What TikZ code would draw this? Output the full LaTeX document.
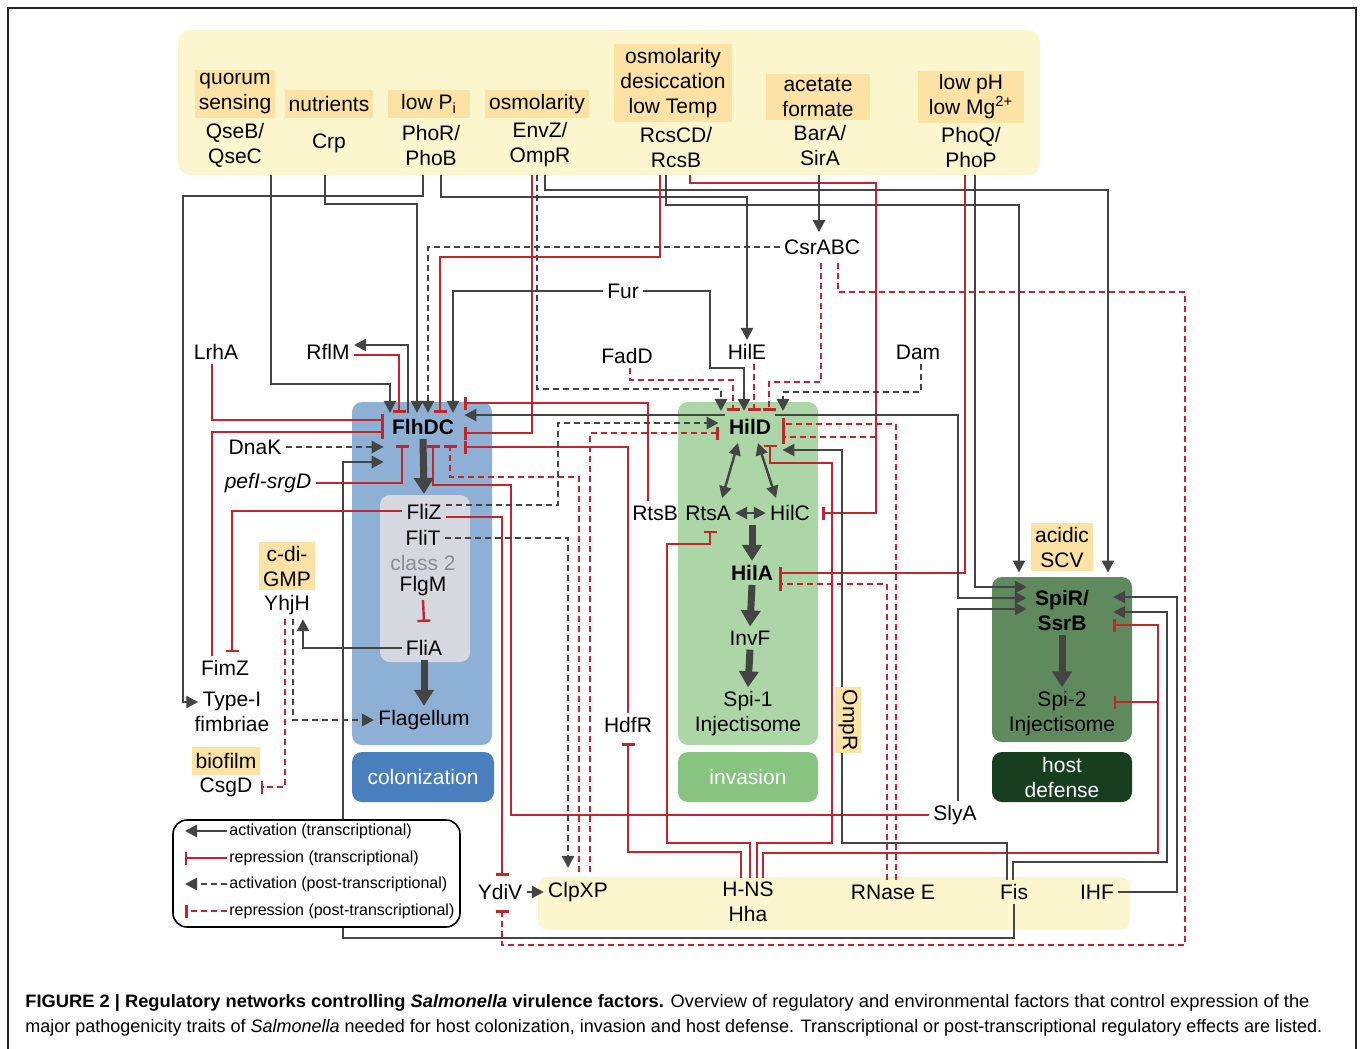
\documentclass[tikz,border=0pt]{standalone}
\usepackage{fontspec}
\setmainfont{Liberation Sans}
\usepackage{graphicx}
\usetikzlibrary{arrows.meta,calc}

\definecolor{linegray}{RGB}{68,68,68}
\definecolor{linered}{RGB}{192,39,45}
\definecolor{envyellow}{RGB}{251,246,205}
\definecolor{cueorange}{RGB}{253,226,166}
\definecolor{flablue}{RGB}{143,176,213}
\definecolor{colblue}{RGB}{74,127,189}
\definecolor{classgray}{RGB}{213,217,223}
\definecolor{invgreen}{RGB}{173,214,166}
\definecolor{invlabgreen}{RGB}{135,196,127}
\definecolor{spigreen}{RGB}{94,138,94}
\definecolor{defgreen}{RGB}{23,63,31}

\newcommand{\lblfont}{\fontsize{10.5}{12.5}\selectfont}
\newcommand{\legfont}{\fontsize{8}{9.5}\selectfont}
\newcommand{\capfont}{\fontsize{9}{11}\selectfont}

\begin{document}
\begin{tikzpicture}[x=0.5pt, y=-0.5pt,
    lbl/.style={inner sep=2pt, align=center, font=\lblfont, text=black},
    cue/.style={lbl, fill=cueorange, minimum height=14pt},
    area/.style={rounded corners=5pt, inner sep=0pt},
    act/.style={draw=linegray, line width=1.2pt, -{Triangle[length=6pt,width=6pt]}},
    rep/.style={draw=linered, line width=1.2pt, -{Bar[width=6.5pt]}},
    pact/.style={act, line width=1.4pt, dash pattern=on 3pt off 2pt},
    prep/.style={rep, line width=1.4pt, dash pattern=on 3pt off 2pt},
    dact/.style={act, {Triangle[length=6pt,width=6pt]}-{Triangle[length=6pt,width=6pt]}},
    big/.style={draw=linegray, line width=3.5pt, -{Triangle[length=8pt,width=9.5pt]}}]

    \useasboundingbox (0,0) rectangle (1360,1049);
    \draw[line width=1pt, black!85] (8,1060) -- (8,8) -- (1356,8) -- (1356,1060);

    % areas
    \node[area, fill=envyellow, minimum width=431pt, minimum height=72.5pt, rounded corners=6pt]
      (topbox) at (609,102.5) {};
    \node[area, fill=flablue, minimum width=70pt, minimum height=171.5pt]
      (flabox) at (422,573.5) {};
    \node[area, fill=classgray, minimum width=45pt, minimum height=83.5pt]
      (classbox) at (425,578.5) {};
    \node[area, fill=colblue, minimum width=71pt, minimum height=25pt, font=\lblfont, text=white]
      (colbox) at (423,777) {colonization};
    \node[area, fill=invgreen, minimum width=70pt, minimum height=171.5pt]
      (invbox) at (748,573.5) {};
    \node[area, fill=invlabgreen, minimum width=70pt, minimum height=25pt, font=\lblfont, text=white]
      (invlab) at (748,777) {invasion};
    \node[area, fill=spigreen, minimum width=70pt, minimum height=82.5pt]
      (defbox) at (1062,659.5) {};
    \node[area, fill=defgreen, minimum width=70pt, minimum height=25pt, font=\lblfont, text=white, align=center]
      (deflab) at (1062,777) {host\\defense};
    \node[area, fill=envyellow, minimum width=296pt, minimum height=26.5pt]
      (botbox) at (834,903.5) {};

    % environmental cues and sensors
    \node[cue] (quorum) at (235,94) {quorum\\sensing};
    \node[lbl] (qse) at (235,145) {QseB/\\QseC};
    \node[cue] (nutri) at (329,104) {nutrients};
    \node[lbl] (crp) at (329,143) {Crp};
    \node[cue, minimum width=41pt] (lowpi) at (429,104) {low P\textsubscript{i}};
    \node[lbl] (pho) at (431,145) {PhoR/\\PhoB};
    \node[cue] (osmo) at (537,104) {osmolarity};
    \node[lbl] (envz) at (540,145) {EnvZ/\\OmpR};
    \node[cue, minimum width=59pt] (stress) at (673,83) {osmolarity\\desiccation\\low Temp};
    \node[lbl] (rcs) at (676,147) {RcsCD/\\RcsB};
    \node[cue, minimum width=52pt] (acet) at (818,97) {acetate\\formate};
    \node[lbl] (bara) at (820,145) {BarA/\\SirA};
    \node[cue, minimum width=53pt] (lowph) at (971,97) {low pH\\low Mg\textsuperscript{2+}};
    \node[lbl] (phoq) at (971,147) {PhoQ/\\PhoP};

    % regulators
    \node[lbl] (lrha) at (216,352) {LrhA};
    \node[lbl] (rflm) at (328,352) {RflM};
    \node[lbl] (dnak) at (255,447) {DnaK};
    \node[lbl, font=\lblfont\itshape] (pef) at (268,483) {pefI-srgD};
    \node[lbl, font=\lblfont\bfseries] (flhdc) at (423,427) {FlhDC};
    \node[lbl] (fliz) at (424,512) {FliZ};
    \node[lbl] (flit) at (423,538) {FliT};
    \node[lbl, text=black!45] (class2) at (423,563) {class 2};
    \node[lbl] (flgm) at (423,586) {FlgM};
    \node[lbl] (flia) at (424,648) {FliA};
    \node[lbl] (flag) at (424,720) {Flagellum};
    \node[cue] (cdigmp) at (287,566) {c-di-\\GMP};
    \node[lbl] (yhjh) at (287,605) {YhjH};
    \node[lbl] (fimz) at (225,668) {FimZ};
    \node[lbl] (typei) at (232,712) {Type-I\\fimbriae};
    \node[cue] (biofilm) at (226,761) {biofilm};
    \node[lbl] (csgd) at (226,787) {CsgD};
    \node[lbl] (fur) at (623,291) {Fur};
    \node[lbl] (csr) at (822,247) {CsrABC};
    \node[lbl] (fadd) at (627,356) {FadD};
    \node[lbl] (hile) at (747,352) {HilE};
    \node[lbl] (dam) at (918,352) {Dam};
    \node[lbl, font=\lblfont\bfseries] (hild) at (750,427) {HilD};
    \node[lbl] (rtsb) at (655,513) {RtsB};
    \node[lbl] (rtsa) at (708,513) {RtsA};
    \node[lbl] (hilc) at (790,513) {HilC};
    \node[lbl, font=\lblfont\bfseries] (hila) at (752,573) {HilA};
    \node[lbl] (invf) at (750,638) {InvF};
    \node[lbl] (spi1) at (748,714) {Spi-1\\Injectisome};
    \node[lbl] (hdfr) at (628,725) {HdfR};
    \node[cue] (scv) at (1062,547) {acidic\\SCV};
    \node[lbl, font=\lblfont\bfseries] (spir) at (1062,610) {SpiR/\\SsrB};
    \node[lbl] (spi2) at (1062,714) {Spi-2\\Injectisome};
    \node[lbl] (slya) at (955,815) {SlyA};
    \node[lbl] (ydiv) at (500,892) {YdiV};
    \node[lbl] (clpxp) at (578,892) {ClpXP};
    \node[lbl] (hns) at (748,902) {H-NS\\Hha};
    \node[lbl] (rnase) at (893,892) {RNase E};
    \node[lbl] (fis) at (1014,892) {Fis};
    \node[lbl] (ihf) at (1097,892) {IHF};

    \coordinate (qseOut) at (271,175);
    \coordinate (crpOut) at (325,175);
    \coordinate (phoOutA) at (423,175);
    \coordinate (phoOutB) at (441,175);
    \coordinate (envOutR) at (532,175);
    \coordinate (envOutD) at (537,175);
    \coordinate (envOutA) at (545,175);
    \coordinate (rcsOutR) at (660,175);
    \coordinate (rcsOutA) at (666,175);
    \coordinate (rcsOutH) at (690,175);
    \coordinate (sirOut) at (819,175);
    \coordinate (phpOutR) at (965,175);
    \coordinate (phpOutA) at (975,175);
    \coordinate (hnsj) at (1158,702);
    \coordinate (ompj) at (876,437);

    % from the sensors
    \draw[act] (qseOut) |- (390,384) -- ($(flhdc.north)+(-33,-2)$);
    \draw[act] (phoOutA) |- (183,196) |- ($(typei.west)+(8,-10)$);
    \draw[act] (crpOut) |- (417,204) -- ($(flhdc.north)+(-6,-2)$);
    \draw[act] (phoOutB) |- (747,197) -- (hile.north);
    \draw[rep] (envOutR) |- ($(flhdc.east)+(6,6)$);
    \draw[pact] (envOutD) |- (721,389) -- ($(hild.north)+(-29,-4)$);
    \draw[act] (envOutA) |- (1108,190) -- ($(defbox.north)+(46,-4)$);
    \draw[rep] (rcsOutR) |- (440,257) -- ($(flhdc.north)+(17,-2)$);
    \draw[act] (rcsOutA) |- (1019,205) -- ($(defbox.north)+(-43,-4)$);
    \draw[rep] (rcsOutH) |- (876,183) |- ($(hilc.east)+(8,0)$);
    \draw[act] (sirOut) -- ($(csr.north)+(-3,-3)$);
    \draw[rep] (phpOutR) |- ($(hila.east)+(2,0)$);
    \draw[act] (phpOutA) |- ($(spir.west)+(-4,-23)$);

    % FlhDC inputs
    \draw[pact] (csr.west) -| ($(flhdc.north)+(5,-2)$);
    \draw[act] (fur.west) -| ($(flhdc.north)+(30,-2)$);
    \draw[act] ($(flhdc.north)+(-15,-2)$) |- ($(rflm.east)+(0,-7)$);
    \draw[rep] ($(rflm.east)+(0,3)$) -| ($(flhdc.north)+(-24,-2)$);
    \draw[rep] ($(lrha.south)+(-4,0)$) |- ($(flhdc.west)+(-4,-7)$);
    \draw[rep] ($(fimz.north)+(-13,0)$) |- ($(flhdc.west)+(-4,5)$);
    \draw[pact] (dnak.east) -- ($(flhdc.west)+(-4,20)$);
    \draw[act] (fis.south) |- (343,938) |- ($(flhdc.west)+(-4,35)$);
    \draw[rep] (pef.east) -| ($(flhdc.south)+(-21,6)$);
    \draw[rep] (slya.west) -| (511,485) -| ($(flhdc.south)+(10,6)$);
    \draw[rep] ($(rtsb.north)+(-7,0)$) |- ($(flhdc.east)+(6,-24)$);
    \draw[rep] (hdfr.north) |- ($(flhdc.east)+(6,20)$);
    \draw[act] ($(hild.west)+(0,-12)$) -- ($(flhdc.east)+(6,-12)$);
    \draw[prep] ($(clpxp.north)+(1,-6)$) |- (450,477) -- ($(flhdc.south)+(27,6)$);

    % flagellar cascade
    \draw[big] (flhdc.south) -- ($(fliz.north)+(0,-6)$);
    \draw[rep] (flgm.south) -- ($(flia.north)+(0,-14)$);
    \draw[big] (flia.south) -- (flag.north);
    \draw[act] (flia.west) -| ($(yhjh.south)+(16,0)$);
    \draw[pact] ($(yhjh.south)+(6,0)$) |- (flag.west);
    \draw[prep] ($(yhjh.south)+(-2,0)$) |- ($(csgd.east)+(4,0)$);
    \draw[rep] ($(fliz.west)+(0,-1)$) -| ($(fimz.north)+(7,-4)$);
    \draw[rep] ($(fliz.east)+(0,5)$) -| ($(ydiv.north)+(2,-4)$);
    \draw[pact] ($(fliz.east)+(0,-7)$) -| (558,423) -- ($(hild.west)+(-6,-4)$);
    \draw[pact] (flit.east) -| ($(clpxp.north)+(-10,-10)$);
    \draw[pact] (ydiv.east) -- (clpxp.west);

    % HilD inputs
    \draw[act] (fur.east) -| (710,368) -| ($(hild.north)+(-6,-4)$);
    \draw[prep] ($(fadd.south)+(3,0)$) |- (733,380) -- ($(hild.north)+(-17,-4)$);
    \draw[prep] ($(hile.south)+(7,0)$) -- ($(hild.north)+(4,-4)$);
    \draw[prep] ($(csr.south)+(-1,4)$) |- (769,382) -- ($(hild.north)+(19,-4)$);
    \draw[pact] ($(dam.south)+(3,0)$) |- (783,392) -- ($(hild.north)+(33,-4)$);
    \draw[prep] ($(csr.south)+(16,4)$) |- (1185,292) |- (502,945) -- ($(ydiv.south)+(2,6)$);
    \draw[prep] ($(clpxp.north)+(12,-6)$) |- ($(hild.west)+(-6,6)$);
    \draw[prep] ($(rnase.north)+(3,0)$) |- ($(hild.east)+(7,-3)$);
    \draw[prep] (ompj) -- ($(hild.east)+(7,10)$);
    \draw[prep] ($(rnase.north)+(-6,0)$) |- ($(hila.east)+(2,11)$);
    \draw[act] ($(hild.east)+(0,-12)$) -| (958,598) -- ($(spir.west)+(-4,-12)$);

    % invasion cascade
    \draw[dact] ($(hild.south)+(-12,4)$) -- ($(rtsa.north)+(14,-3)$);
    \draw[dact] ($(hild.south)+(8,4)$) -- ($(hilc.north)+(-14,-3)$);
    \draw[dact] (rtsa.east) -- (hilc.west);
    \draw[big] (hila.north |- rtsa.south) -- (hila.north);
    \draw[big] (hila.south) -- (invf.north);
    \draw[big] (invf.south) -- (spi1.north);
    \draw[big] (spir.south) -- (spi2.north);

    % nucleoid proteins
    \draw[rep] ($(hns.north)+(-7,0)$) |- (628,852) -- ($(hdfr.south)+(0,6)$);
    \draw[rep] ($(hns.north)+(2,0)$) |- (667,843) |- (710,544) -- ($(rtsa.south)+(2,6)$);
    \draw[rep] ($(hns.north)+(9,0)$) |- (832,843) |- (770,463) -- ($(hild.south)+(20,6)$);
    \draw[rep] ($(hns.north)+(15,0)$) |- (1158,853) |- ($(spir.east)+(20,15)$);
    \draw[rep] (hnsj) -- ($(spi2.east)+(-6,-12)$);
    \draw[act] ($(fis.north)+(-7,0)$) |- (842,843) |- ($(hild.east)+(7,23)$);
    \draw[act] ($(fis.north)+(-1,0)$) |- (1167,862) |- ($(spir.east)+(20,2)$);
    \draw[act] (ihf.east) -| (1177,597) -- ($(spir.east)+(20,-13)$);
    \draw[act] ($(slya.north)+(3,0)$) |- ($(spir.west)+(-4,-1)$);

    \node[cue, rotate=-90, inner sep=1.5pt, minimum height=12pt] (ompr) at (848,720) {OmpR};

    % legend
    \node[area, draw=black, line width=0.8pt, fill=white, minimum width=143.5pt,
      minimum height=53.5pt, rounded corners=7pt] (legbox) at (316.5,873.5) {};
    \node[anchor=west, font=\legfont, inner sep=1pt] (legact) at (227,831) {activation (transcriptional)};
    \node[anchor=west, font=\legfont, inner sep=1pt] (legrep) at (227,858) {repression (transcriptional)};
    \node[anchor=west, font=\legfont, inner sep=1pt] (legpact) at (227,884) {activation (post-transcriptional)};
    \node[anchor=west, font=\legfont, inner sep=1pt] (legprep) at (227,911) {repression (post-transcriptional)};
    \draw[act] (legact.west) -- ++(-42,0);
    \draw[rep] (legrep.west) -- ++(-42,0);
    \draw[pact] (legpact.west) -- ++(-42,0);
    \draw[prep] (legprep.west) -- ++(-42,0);

    % caption
    \node[anchor=west, inner sep=0pt] (capA) at (25,1003)
      {\resizebox{642pt}{\height}{\capfont\textbf{FIGURE 2 | Regulatory networks controlling \textit{Salmonella} virulence factors.} Overview of regulatory and environmental factors that control expression of the}};
    \node[anchor=west, inner sep=0pt] (capB) at (25,1028)
      {\resizebox{648.5pt}{\height}{\capfont major pathogenicity traits of \textit{Salmonella} needed for host colonization, invasion and host defense. Transcriptional or post-transcriptional regulatory effects are listed.}};
\end{tikzpicture}
\end{document}
